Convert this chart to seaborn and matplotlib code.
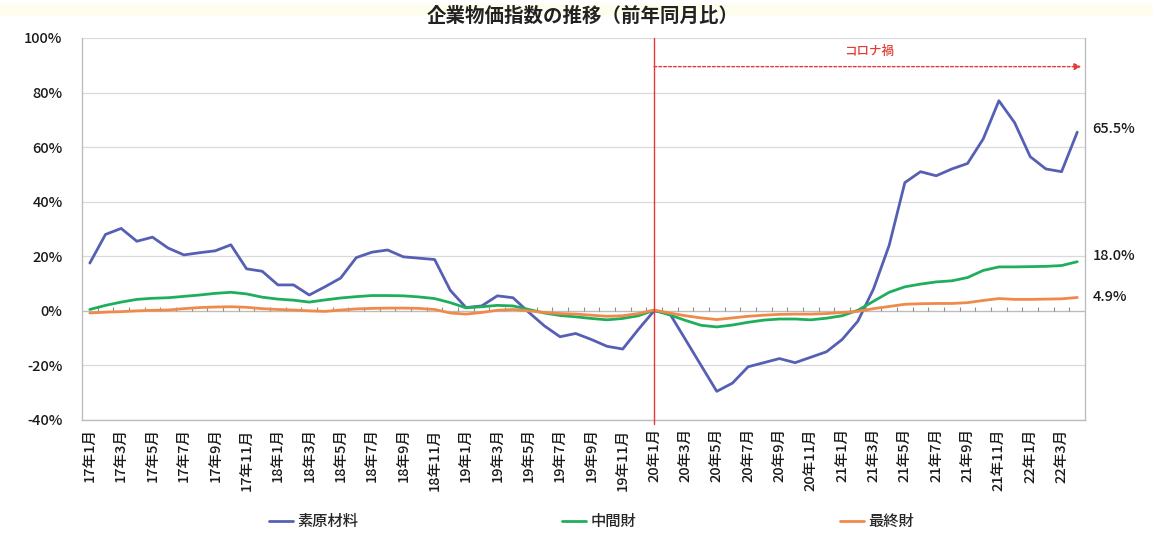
import numpy as np
import pandas as pd
import matplotlib
matplotlib.use("Agg")
import matplotlib.pyplot as plt
from matplotlib.lines import Line2D
from matplotlib.patches import Rectangle
import seaborn as sns

sns.set_theme(style="white")
plt.rcParams["font.family"] = ["Noto Sans CJK JP", "DejaVu Sans"]

# Monthly categories: 2017-01 .. 2022-04
months = [f"{y}年{m}月" for y in range(17, 23) for m in range(1, 13)][:64]

# Year-on-year change (%) of the corporate goods price index
raw_materials = [
    17.5, 28.0, 30.2, 25.5, 27.0, 23.0, 20.5, 21.3, 22.0, 24.2, 15.4, 14.5,
    9.5, 9.5, 5.8, 8.8, 12.0, 19.5, 21.5, 22.3, 19.8, 19.3, 18.8, 7.5,
    1.2, 1.8, 5.5, 4.8, -0.5, -5.5, -9.5, -8.3, -10.5, -13.0, -14.0, -6.8,
    0.0, -1.0, -10.5, -20.0, -29.5, -26.5, -20.5, -19.0, -17.5, -19.0, -17.0, -15.0,
    -10.5, -3.8, 8.0, 24.0, 47.0, 51.0, 49.5, 52.0, 54.0, 63.0, 77.0, 69.0,
    56.5, 52.0, 51.0, 65.5,
]
intermediate = [
    0.5, 2.0, 3.2, 4.2, 4.6, 4.8, 5.3, 5.8, 6.4, 6.8, 6.2, 5.0,
    4.3, 3.9, 3.2, 4.0, 4.7, 5.2, 5.6, 5.6, 5.5, 5.1, 4.5, 3.0,
    1.1, 1.5, 2.0, 1.8, 0.5, -0.8, -1.7, -2.2, -2.8, -3.3, -2.8, -1.8,
    0.2, -1.5, -3.5, -5.3, -5.9, -5.2, -4.2, -3.4, -3.0, -3.0, -3.3, -2.7,
    -1.8, 0.2, 3.5, 6.8, 8.8, 9.8, 10.6, 11.0, 12.2, 14.8, 16.1, 16.1,
    16.2, 16.3, 16.6, 18.0,
]
final_goods = [
    -0.8, -0.5, -0.3, 0.0, 0.2, 0.3, 0.8, 1.2, 1.4, 1.5, 1.3, 0.8,
    0.5, 0.3, 0.0, -0.2, 0.3, 0.7, 0.9, 1.0, 1.0, 0.9, 0.5, -0.8,
    -1.2, -0.6, 0.2, 0.5, 0.0, -0.6, -1.0, -1.2, -1.6, -2.0, -1.8, -1.0,
    0.3, -0.8, -1.8, -2.6, -3.2, -2.6, -2.0, -1.6, -1.3, -1.2, -1.2, -1.0,
    -0.6, -0.2, 0.8, 1.6, 2.4, 2.6, 2.7, 2.7, 3.0, 3.8, 4.5, 4.2,
    4.2, 4.3, 4.4, 4.9,
]

series_names = ["素原材料", "中間財", "最終財"]
series_values = [raw_materials, intermediate, final_goods]
colors = ["#5560B4", "#1FAF5C", "#F08A4B"]
y_ticks = [-40, -20, 0, 20, 40, 60, 80, 100]
covid_start = "20年1月"
covid_label = "コロナ禍"

n = len(months)
idx = np.arange(n)
df = pd.DataFrame({
    "pos": np.tile(idx, len(series_names)),
    "value": np.concatenate(series_values),
    "series": np.repeat(series_names, n),
})

text_color = "#1A1A1A"

fig = plt.figure(figsize=(11.53, 5.35), dpi=100)
fig.patches.append(Rectangle((0, 0.972), 1, 0.02, transform=fig.transFigure,
                             color="#FFFDEE", zorder=0))
ax = fig.add_axes([0.0711, 0.215, 0.8700, 0.714])

# Zero line with category tick marks
ax.axhline(0, color="#BDBDBD", lw=0.9, zorder=1)
ax.vlines(idx[:-1] + 0.5, 0, 1.3, color="#8E8E8E", lw=0.8, zorder=1)

sns.lineplot(data=df, x="pos", y="value", hue="series", hue_order=series_names,
             palette=colors, linewidth=2.0, ax=ax, legend=False, zorder=3)

ax.set_xlim(-0.5, n - 0.5)
ax.set_ylim(-40, 100)
ax.set_yticks(y_ticks)
ax.set_yticklabels([f"{v}%" for v in y_ticks], fontsize=10.5,
                   color=text_color, fontweight="medium")
ax.set_xticks(idx[::2])
ax.set_xticklabels(months[::2], rotation=90, fontsize=10.5,
                   color=text_color, fontweight="medium")
ax.tick_params(axis="y", length=0, pad=14)
ax.tick_params(axis="x", length=0, pad=6)
ax.set_xlabel("")
ax.set_ylabel("")
ax.grid(axis="y", color="#DADADA", lw=0.9)
ax.set_axisbelow(True)
for side in ["left", "right", "bottom"]:
    ax.spines[side].set_color("#BDBDBD")
    ax.spines[side].set_linewidth(1.0)
ax.spines["top"].set_visible(False)

# COVID period marker
cx = months.index(covid_start)
ax.axvline(cx, color="#E53935", lw=1.0, zorder=4, ymin=-0.01, clip_on=False)
ax.annotate("", xy=(n - 0.75, 89.5), xytext=(cx, 89.5),
            arrowprops=dict(arrowstyle="-|>", color="#E53935", lw=1.0,
                            linestyle=(0, (2, 1.5)), mutation_scale=10,
                            shrinkA=0, shrinkB=0))
ax.text((cx + n) / 2 - 0.3, 95, covid_label, color="#E53935", fontsize=9,
        fontweight="medium", ha="center", va="center")

# Latest values at the right edge
offsets = [2, 4, 0]
for vals, dy in zip(series_values, offsets):
    ax.annotate(f"{vals[-1]:.1f}%", xy=(n - 1, vals[-1]), xytext=(11, dy),
                textcoords="offset points", ha="left", va="center",
                fontsize=10.5, color=text_color, fontweight="medium",
                annotation_clip=False)

fig.suptitle("企業物価指数の推移（前年同月比）", x=0.505, y=0.988,
             fontsize=14, fontweight="bold", color="#222222")

handles = [Line2D([0], [0], color=c, lw=2.0) for c in colors]
fig.legend(handles, series_names, loc="center", bbox_to_anchor=(0.513, 0.025),
           ncol=3, frameon=False,
           prop={"size": 11, "weight": "medium"}, columnspacing=13.3,
           handlelength=1.6, handletextpad=0.3)

fig.savefig("out.png", dpi=100, facecolor="white")
